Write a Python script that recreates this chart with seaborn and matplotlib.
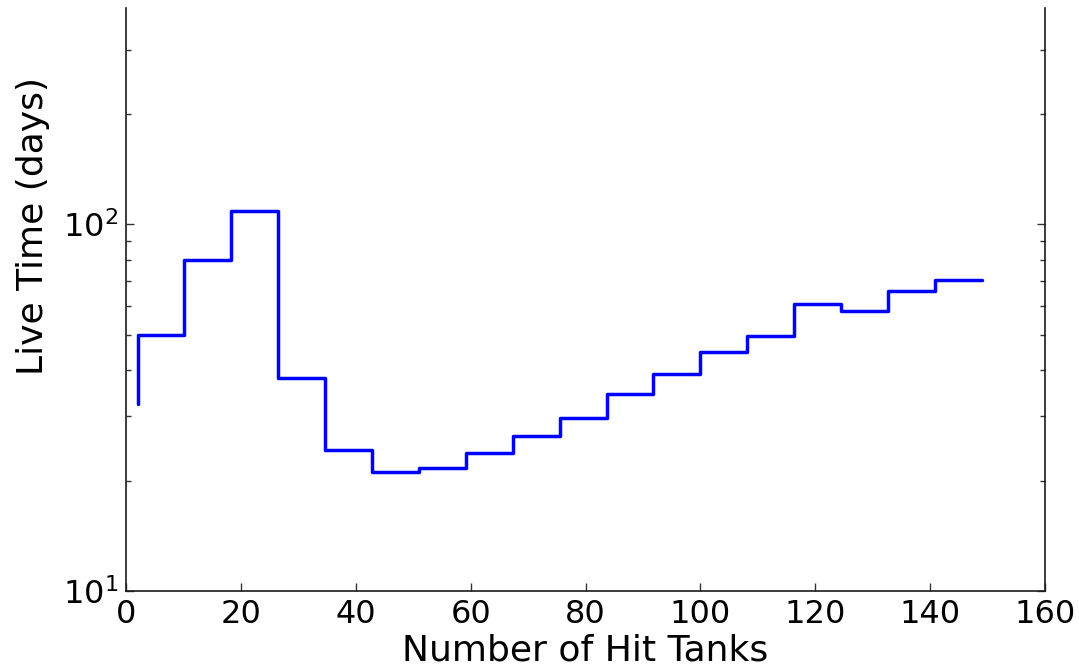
import numpy as np
import matplotlib
matplotlib.use("Agg")
import matplotlib.pyplot as plt
import seaborn as sns

# Bin edges in number of hit tanks and live time per bin (days)
edges = np.linspace(2, 149, 19)
live_time = [32.3, 50.0, 80.0, 109.0, 38.0, 24.3, 21.1, 21.7, 23.8, 26.4,
             29.6, 34.4, 39.1, 45.0, 49.6, 60.5, 58.0, 65.8, 70.6]

x_ticks = [0, 20, 40, 60, 80, 100, 120, 140, 160]

sns.set_style("ticks")
plt.rcParams["font.family"] = ["DejaVu Sans"]

fig = plt.figure(figsize=(10.79, 6.65), dpi=100)
ax = fig.add_axes([0.1168, 0.1113, 0.8517, 0.877])

sns.lineplot(x=edges, y=live_time, ax=ax, drawstyle="steps-pre",
             color="blue", linewidth=2.5, estimator=None, sort=False)

ax.set_yscale("log")
ax.set_xlim(0, 160)
ax.set_ylim(10, 390)
ax.set_xticks(x_ticks)

ax.spines["top"].set_visible(False)
for side in ("left", "right", "bottom"):
    ax.spines[side].set_color("#1a1a1a")
    ax.spines[side].set_linewidth(1.2)

ax.tick_params(which="both", direction="in", right=True, top=False,
               colors="#333333", labelcolor="black", labelsize=23)
ax.tick_params(which="major", length=6, width=1)
ax.tick_params(which="minor", length=3.5, width=1)
ax.tick_params(axis="x", pad=6)
ax.tick_params(axis="y", pad=6)

ax.set_xlabel("Number of Hit Tanks", fontsize=26, color="black", labelpad=2)
ax.set_ylabel("Live Time (days)", fontsize=26, color="black")
ax.yaxis.set_label_coords(-0.083, 0.626)

fig.savefig("out.png", dpi=100)
